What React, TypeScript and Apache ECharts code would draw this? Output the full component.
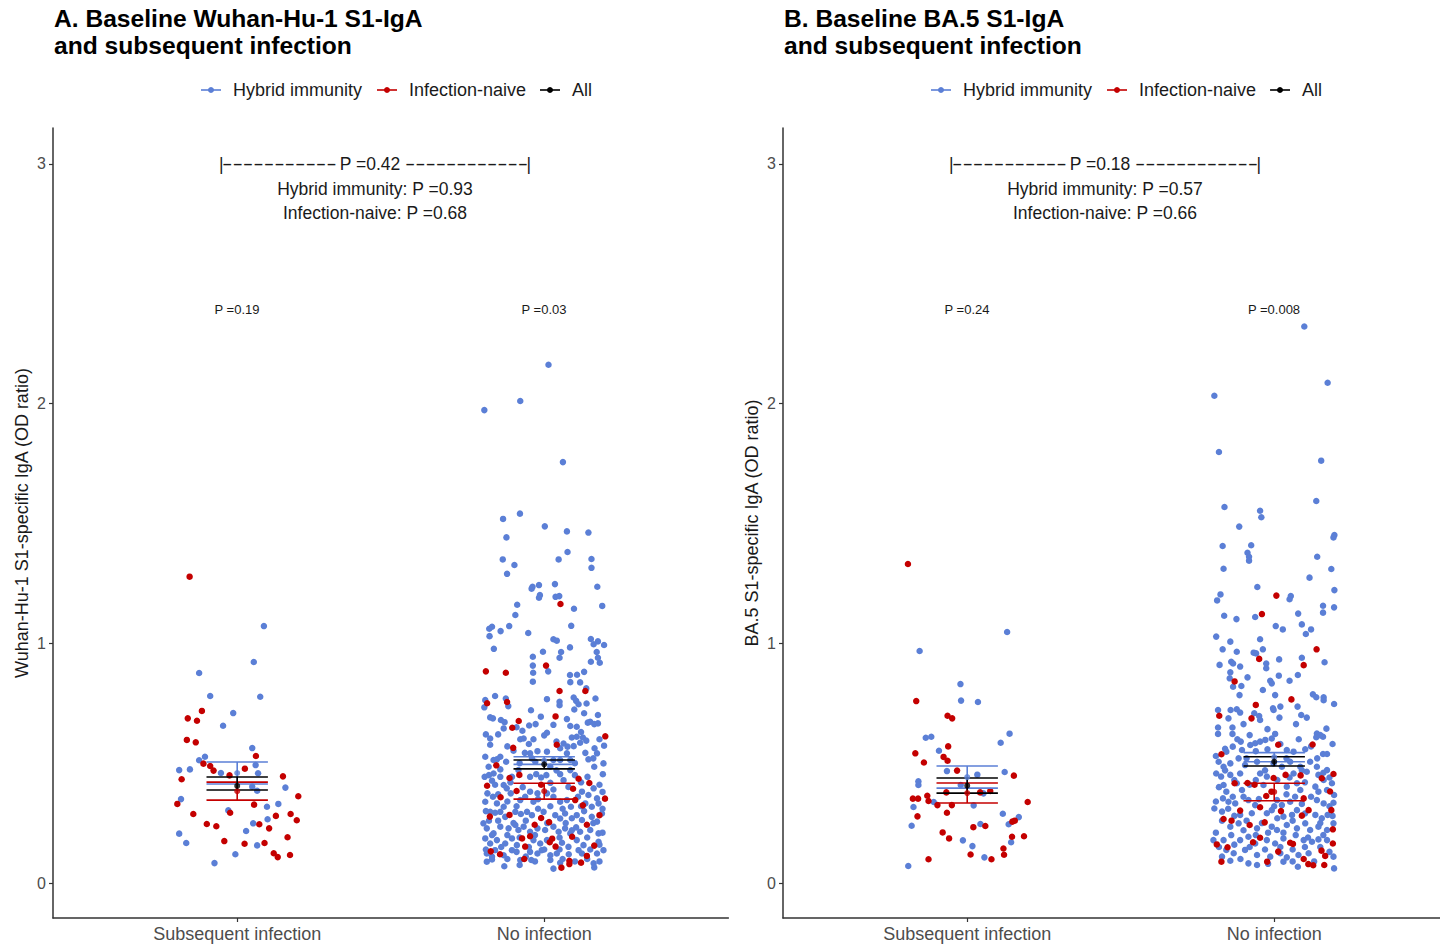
import React, { useEffect, useRef } from "react";
import * as echarts from "echarts";

// Categories on the x axis (positions 1 and 2 on a numeric scale so points can be jittered)
const categories = ["Subsequent infection", "No infection"];
const groups = ["Hybrid immunity", "Infection-naive", "All"];
const yTicks = [0, 1, 2, 3];

// Points: [horizontal jitter offset, OD ratio]
// Panel A – Wuhan-Hu-1
const wuhanSubHybrid = [
  [0.087, 1.072], [0.054, 0.922], [-0.124, 0.876], [-0.088, 0.78], [0.075, 0.777], [-0.013, 0.709], [-0.046, 0.656],
  [0.049, 0.563], [-0.105, 0.527], [-0.124, 0.512], [0.06, 0.492], [-0.189, 0.471], [-0.154, 0.474], [-0.053, 0.459],
  [0.068, 0.458], [0.049, 0.402], [0.065, 0.385], [0.157, 0.398], [-0.183, 0.35], [0.097, 0.318], [0.134, 0.33],
  [-0.029, 0.303], [0.099, 0.266], [0.052, 0.249], [-0.189, 0.206], [0.029, 0.217], [-0.166, 0.167], [0.065, 0.157],
  [-0.006, 0.12], [-0.074, 0.083],
];
const wuhanSubNaive = [
  [-0.155, 1.278], [-0.115, 0.718], [-0.161, 0.687], [-0.131, 0.677], [-0.164, 0.597], [-0.135, 0.587], [0.061, 0.53],
  [-0.11, 0.498], [-0.088, 0.488], [-0.077, 0.469], [0.025, 0.477], [-0.025, 0.449], [0.149, 0.445], [-0.181, 0.433],
  [0.199, 0.362], [-0.195, 0.33], [0.055, 0.327], [-0.023, 0.293], [-0.143, 0.288], [0.126, 0.28], [0.174, 0.288],
  [0.194, 0.262], [-0.099, 0.246], [-0.068, 0.237], [0.072, 0.245], [0.104, 0.228], [0.164, 0.191], [-0.042, 0.175],
  [0.024, 0.164], [0.089, 0.167], [0.119, 0.124], [0.132, 0.108], [0.172, 0.117],
];
const wuhanNoHybrid = [
  [-0.195, 1.973], [-0.078, 2.011], [0.014, 2.162], [0.061, 1.756],
  [-0.134, 1.519], [-0.079, 1.541], [0.002, 1.488], [0.074, 1.467], [0.144, 1.462], [-0.123, 1.442], [0.076, 1.381],
  [-0.135, 1.35], [0.047, 1.35], [0.154, 1.352], [-0.097, 1.327], [0.154, 1.315], [-0.121, 1.29], [0.035, 1.247],
  [-0.017, 1.243], [-0.038, 1.236], [-0.041, 1.228], [0.173, 1.236], [-0.014, 1.201], [-0.017, 1.19], [0.037, 1.194],
  [0.049, 1.197], [-0.088, 1.161], [0.097, 1.144], [0.189, 1.156], [-0.094, 1.118], [0.088, 1.073], [-0.114, 1.072],
  [-0.17, 1.069], [-0.179, 1.061], [-0.142, 1.051], [-0.178, 1.03], [-0.052, 1.043], [0.03, 1.017], [0.041, 1.011],
  [0.152, 1.018], [0.175, 1.008], [0.161, 0.996], [0.195, 0.993], [-0.164, 0.977], [0.084, 0.983], [-0.004, 0.965],
  [0.055, 0.964], [0.171, 0.964], [0.05, 0.94], [0.175, 0.94], [0.181, 0.919], [0.152, 0.923], [-0.037, 0.944],
  [-0.037, 0.907], [-0.036, 0.877], [0.013, 0.883], [0.084, 0.868], [0.107, 0.869], [0.13, 0.881],
  [-0.037, 0.84], [0.085, 0.838], [0.117, 0.837], [0.137, 0.812], [0.167, 0.77], [-0.192, 0.763], [-0.16, 0.78],
  [-0.125, 0.77], [-0.117, 0.738], [-0.195, 0.733], [-0.043, 0.721], [0.009, 0.767], [0.05, 0.756], [0.05, 0.742],
  [0.096, 0.774], [0.104, 0.76], [0.112, 0.746], [0.098, 0.724], [0.138, 0.749], [0.175, 0.701], [0.13, 0.708],
  [-0.176, 0.691], [-0.167, 0.687], [-0.141, 0.68], [-0.129, 0.671], [-0.132, 0.645], [-0.071, 0.635], [-0.049, 0.657],
  [-0.028, 0.663], [-0.011, 0.694], [0.009, 0.627], [0.0, 0.616], [0.074, 0.684], [0.085, 0.655], [0.106, 0.652],
  [0.142, 0.669], [0.15, 0.673], [0.163, 0.663], [0.175, 0.666], [0.195, 0.573], [-0.035, 0.6], [-0.067, 0.603],
  [-0.078, 0.6], [-0.176, 0.577], [0.09, 0.607], [0.106, 0.61], [0.126, 0.607], [0.137, 0.594], [0.117, 0.585],
  [0.063, 0.582], [0.052, 0.562], [0.076, 0.569], [0.096, 0.571], [0.164, 0.562], [0.134, 0.543], [0.172, 0.541],
  [-0.063, 0.543], [-0.046, 0.541], [0.009, 0.548], [-0.022, 0.55], [-0.192, 0.527], [-0.165, 0.513], [-0.154, 0.516],
  [-0.143, 0.527], [-0.124, 0.506], [0.074, 0.541], [0.052, 0.513], [0.03, 0.513], [-0.029, 0.506], [0.085, 0.471],
  [0.144, 0.516], [0.163, 0.485], [0.193, 0.499], [0.191, 0.454], [-0.181, 0.485], [-0.194, 0.443], [-0.165, 0.457],
  [-0.143, 0.474], [-0.17, 0.427], [-0.143, 0.443], [-0.132, 0.409], [-0.122, 0.395], [-0.046, 0.443], [-0.026, 0.454],
  [0.007, 0.45], [0.052, 0.454], [0.063, 0.429], [0.02, 0.418], [0.079, 0.401], [0.141, 0.443], [0.161, 0.395],
  [0.123, 0.381], [0.144, 0.367], [0.172, 0.353], [-0.185, 0.374], [-0.167, 0.36], [-0.192, 0.339], [-0.154, 0.332],
  [-0.132, 0.318], [-0.109, 0.374], [-0.078, 0.346], [-0.062, 0.36], [-0.046, 0.381], [-0.022, 0.374], [-0.035, 0.339],
  [0.009, 0.374], [0.03, 0.36], [0.052, 0.339], [0.074, 0.346], [0.087, 0.318], [0.134, 0.332], [0.155, 0.318],
  [0.177, 0.332], [0.188, 0.29], [-0.176, 0.297], [-0.16, 0.293], [-0.143, 0.297], [-0.127, 0.276], [-0.094, 0.297],
  [-0.076, 0.288], [-0.056, 0.297], [-0.04, 0.283], [-0.002, 0.297], [0.036, 0.283], [0.052, 0.269], [0.068, 0.29],
  [0.106, 0.283], [0.123, 0.263], [0.155, 0.276], [0.172, 0.256], [-0.198, 0.249], [-0.187, 0.228], [-0.165, 0.207],
  [-0.143, 0.235], [-0.116, 0.228], [-0.094, 0.242], [-0.084, 0.221], [-0.067, 0.235], [-0.046, 0.214], [-0.022, 0.228],
  [0.003, 0.221], [0.03, 0.235], [0.047, 0.214], [0.068, 0.228], [0.085, 0.207], [0.104, 0.232], [0.117, 0.214],
  [0.15, 0.221], [0.177, 0.207], [-0.192, 0.186], [-0.176, 0.165], [-0.154, 0.179], [-0.127, 0.165], [-0.105, 0.186],
  [-0.089, 0.158], [-0.035, 0.179], [-0.013, 0.165], [0.009, 0.179], [0.058, 0.168], [0.079, 0.151], [0.106, 0.179],
  [0.128, 0.158], [0.177, 0.172], [0.193, 0.137], [-0.187, 0.123], [-0.16, 0.137], [-0.132, 0.116], [-0.105, 0.137],
  [-0.046, 0.13], [-0.022, 0.123], [-0.008, 0.137], [0.02, 0.116], [0.041, 0.123], [0.112, 0.137], [0.123, 0.123],
  [0.172, 0.123], [-0.187, 0.089], [-0.17, 0.098], [-0.078, 0.096], [-0.042, 0.096], [0.02, 0.096], [0.052, 0.084],
  [0.161, 0.082], [0.163, 0.065], [-0.08, 0.075], [-0.176, 0.603], [-0.1, 0.552], [-0.105, 0.443], [-0.084, 0.471],
  [0.085, 0.513], [0.02, 0.485],
  [-0.18, 0.45], [-0.16, 0.41], [-0.11, 0.42], [-0.07, 0.4], [-0.01, 0.44], [0.04, 0.47], [0.1, 0.45], [0.12, 0.42],
  [0.18, 0.41], [-0.19, 0.3], [-0.15, 0.26], [-0.1, 0.25], [-0.06, 0.26], [-0.02, 0.31], [0.02, 0.32], [0.06, 0.31],
  [0.09, 0.27], [0.13, 0.3], [0.16, 0.25], [0.19, 0.31], [-0.17, 0.2], [-0.12, 0.2], [-0.08, 0.19], [-0.03, 0.2],
  [0.01, 0.25], [0.05, 0.19], [0.09, 0.22], [0.14, 0.19], [0.19, 0.21], [-0.19, 0.14], [-0.14, 0.15], [-0.09, 0.13],
  [-0.05, 0.15], [0.0, 0.14], [0.05, 0.14], [0.08, 0.12], [0.15, 0.14], [0.18, 0.16], [-0.17, 0.11], [-0.12, 0.1],
  [-0.03, 0.09], [0.06, 0.1], [0.1, 0.09], [0.14, 0.1], [0.18, 0.09], [-0.15, 0.62], [-0.09, 0.65], [0.03, 0.66],
  [0.12, 0.63], [0.18, 0.6], [-0.19, 0.62], [-0.05, 0.58], [0.04, 0.59], [-0.12, 0.57], [0.16, 0.52], [-0.08, 0.5],
  [-0.04, 0.52], [0.1, 0.5], [-0.15, 0.37], [-0.12, 0.34], [0.11, 0.36], [0.19, 0.38], [-0.02, 0.35], [0.03, 0.39],
  [-0.09, 0.32], [0.12, 0.32], [-0.18, 0.26], [0.07, 0.25], [-0.06, 0.11], [0.03, 0.06], [-0.13, 0.07],
];
const wuhanNoNaive = [
  [0.053, 1.164], [0.006, 0.907], [-0.19, 0.883], [-0.125, 0.877], [0.134, 0.801], [0.05, 0.801], [-0.186, 0.75],
  [-0.121, 0.755], [0.037, 0.695], [-0.083, 0.676], [-0.104, 0.648], [0.199, 0.612], [-0.101, 0.564], [0.041, 0.577],
  [-0.156, 0.491], [-0.081, 0.451], [-0.113, 0.438], [0.112, 0.435], [-0.186, 0.406], [-0.01, 0.41], [0.147, 0.417],
  [-0.09, 0.384], [0.094, 0.393], [-0.142, 0.358], [0.101, 0.346], [0.198, 0.352], [0.126, 0.324], [-0.177, 0.277],
  [-0.113, 0.284], [-0.01, 0.271], [-0.031, 0.243], [0.016, 0.254], [0.139, 0.243], [0.18, 0.283], [-0.072, 0.186],
  [-0.046, 0.195], [0.018, 0.17], [0.026, 0.185], [0.091, 0.193], [-0.062, 0.152], [0.037, 0.152], [0.163, 0.156],
  [-0.174, 0.132], [-0.144, 0.12], [0.139, 0.113], [-0.065, 0.1], [0.082, 0.093], [0.056, 0.064], [0.082, 0.079],
  [0.12, 0.085],
];

// Panel B – BA.5
const ba5SubHybrid = [
  [0.13, 1.047], [-0.155, 0.968], [-0.022, 0.83], [-0.02, 0.761], [0.035, 0.755], [0.138, 0.623], [0.109, 0.585],
  [-0.135, 0.606], [-0.117, 0.61], [-0.092, 0.552], [-0.066, 0.467], [0.033, 0.452], [0.122, 0.463], [-0.159, 0.424],
  [-0.159, 0.409], [-0.021, 0.409], [0.053, 0.374], [-0.109, 0.338], [0.021, 0.324], [-0.175, 0.317], [0.116, 0.289],
  [0.168, 0.275], [0.135, 0.245], [0.043, 0.246], [-0.181, 0.239], [-0.014, 0.178], [0.143, 0.17], [0.017, 0.154],
  [0.056, 0.107], [-0.192, 0.071],
];
const ba5SubNaive = [
  [-0.193, 1.331], [-0.166, 0.759], [-0.064, 0.698], [-0.049, 0.687], [-0.062, 0.57], [-0.169, 0.541], [-0.141, 0.503],
  [-0.077, 0.526], [-0.064, 0.51], [-0.033, 0.469], [0.152, 0.448], [-0.068, 0.378], [0.042, 0.378], [0.075, 0.384],
  [-0.177, 0.352], [-0.16, 0.352], [-0.13, 0.364], [-0.126, 0.342], [-0.097, 0.325], [-0.05, 0.325], [0.197, 0.338],
  [-0.162, 0.278], [-0.066, 0.293], [0.02, 0.233], [0.059, 0.238], [0.147, 0.256], [0.155, 0.26], [-0.08, 0.211],
  [-0.059, 0.186], [0.146, 0.193], [0.185, 0.195], [0.118, 0.144], [0.12, 0.118], [0.011, 0.119], [0.079, 0.099],
  [-0.126, 0.099],
];
const ba5NoHybrid = [
  [0.098, 2.322], [0.174, 2.087], [-0.195, 2.033], [-0.18, 1.798], [0.153, 1.762], [0.137, 1.594], [-0.162, 1.569],
  [-0.046, 1.553], [-0.042, 1.526], [-0.114, 1.487], [0.196, 1.452], [0.193, 1.442], [-0.168, 1.406], [-0.075, 1.409],
  [-0.087, 1.378], [-0.082, 1.361], [-0.082, 1.345], [0.14, 1.361], [-0.165, 1.311], [0.186, 1.31], [0.115, 1.274],
  [-0.055, 1.235], [0.196, 1.222], [-0.175, 1.204], [-0.186, 1.179], [0.054, 1.197], [0.05, 1.184], [0.159, 1.157],
  [0.195, 1.15], [0.159, 1.128], [0.078, 1.124], [-0.163, 1.115], [-0.123, 1.101], [-0.062, 1.11],
  [0.09, 1.079], [0.103, 1.039], [0.12, 1.058], [0.005, 1.072], [0.028, 1.058], [-0.189, 1.028], [-0.143, 1.007],
  [-0.046, 1.017], [-0.168, 0.975], [-0.122, 0.965], [-0.067, 0.961], [-0.059, 0.958], [-0.037, 0.975], [0.09, 0.94],
  [0.164, 0.921], [-0.178, 0.91], [-0.14, 0.923], [-0.134, 0.916], [-0.111, 0.903], [-0.026, 0.916], [-0.026, 0.896],
  [0.016, 0.933], [-0.143, 0.879], [-0.145, 0.854], [-0.134, 0.819], [-0.087, 0.858], [-0.013, 0.844], [-0.008, 0.833],
  [0.015, 0.865], [0.05, 0.844], [0.077, 0.868], [-0.107, 0.822], [-0.113, 0.784], [-0.037, 0.805], [0.003, 0.784],
  [0.126, 0.787], [0.137, 0.775], [0.161, 0.775], [0.161, 0.763], [0.195, 0.747], [0.076, 0.736], [-0.183, 0.722],
  [-0.142, 0.722], [-0.122, 0.725], [-0.111, 0.711], [-0.149, 0.687], [-0.065, 0.708], [-0.049, 0.697], [-0.004, 0.729],
  [0.02, 0.736], [-0.002, 0.722], [0.017, 0.69], [0.088, 0.701], [0.106, 0.69], [-0.1, 0.663], [-0.046, 0.68],
  [0.071, 0.663], [-0.183, 0.649], [-0.183, 0.622], [-0.136, 0.649], [-0.136, 0.622], [-0.022, 0.642], [0.139, 0.624],
  [0.159, 0.61], [0.17, 0.644], [-0.08, 0.617], [0.003, 0.622], [0.15, 0.617], [0.137, 0.608], [-0.109, 0.59],
  [-0.078, 0.576], [-0.062, 0.583], [-0.046, 0.59], [-0.029, 0.597], [-0.008, 0.603], [-0.135, 0.569], [-0.156, 0.548],
  [-0.105, 0.555], [-0.022, 0.558], [0.041, 0.555], [0.063, 0.548], [0.101, 0.558], [0.159, 0.538], [0.172, 0.538],
  [-0.181, 0.506], [-0.165, 0.485], [-0.143, 0.499], [-0.116, 0.52], [-0.095, 0.492], [-0.056, 0.506], [-0.002, 0.499],
  [0.025, 0.485], [0.052, 0.506], [0.085, 0.485], [0.117, 0.506], [0.139, 0.485], [0.172, 0.471], [-0.189, 0.457],
  [-0.173, 0.444], [-0.143, 0.451], [-0.111, 0.457], [-0.046, 0.457], [-0.024, 0.444], [0.063, 0.457], [0.106, 0.464],
  [0.144, 0.451], [0.161, 0.43], [0.188, 0.416], [-0.165, 0.409], [-0.156, 0.381], [-0.122, 0.416], [-0.105, 0.388],
  [-0.035, 0.409], [0.041, 0.402], [0.074, 0.416], [0.085, 0.388], [0.134, 0.402], [0.144, 0.381], [0.172, 0.388],
  [0.195, 0.367], [-0.167, 0.353], [-0.149, 0.339], [-0.135, 0.36], [-0.127, 0.332], [-0.084, 0.346], [-0.062, 0.325],
  [0.009, 0.346], [0.025, 0.325], [0.052, 0.339], [0.068, 0.36], [0.139, 0.346], [0.161, 0.332], [0.193, 0.335],
  [-0.195, 0.311], [-0.17, 0.298], [-0.111, 0.284], [-0.073, 0.291], [-0.024, 0.291], [-0.008, 0.304], [0.03, 0.277],
  [0.058, 0.284], [0.074, 0.304], [0.134, 0.284], [0.155, 0.27], [0.174, 0.284], [0.193, 0.249], [-0.143, 0.235],
  [-0.116, 0.249], [-0.056, 0.228], [-0.008, 0.235], [0.009, 0.221], [0.041, 0.242], [0.074, 0.228], [0.101, 0.249],
  [0.117, 0.221], [0.144, 0.235], [0.172, 0.221], [-0.198, 0.179], [-0.165, 0.179], [-0.111, 0.179], [-0.084, 0.193],
  [-0.062, 0.165], [-0.024, 0.179], [0.003, 0.165], [0.03, 0.186], [0.096, 0.179], [0.123, 0.172], [0.144, 0.182],
  [0.172, 0.179], [-0.156, 0.138], [-0.132, 0.124], [-0.095, 0.138], [-0.056, 0.117], [-0.013, 0.11], [0.02, 0.124],
  [0.041, 0.107], [0.079, 0.117], [0.112, 0.124], [0.193, 0.11], [-0.143, 0.093], [-0.084, 0.082], [-0.056, 0.075],
  [0.03, 0.089], [0.077, 0.068], [0.195, 0.061],
  [-0.18, 0.4], [-0.13, 0.43], [-0.08, 0.41], [-0.03, 0.47], [0.01, 0.43], [0.05, 0.44], [0.1, 0.42], [0.16, 0.46],
  [-0.19, 0.34], [-0.15, 0.31], [-0.1, 0.36], [-0.05, 0.35], [0.0, 0.32], [0.04, 0.37], [0.09, 0.33], [0.12, 0.36],
  [0.18, 0.32], [-0.17, 0.26], [-0.13, 0.28], [-0.09, 0.26], [-0.04, 0.25], [0.01, 0.27], [0.06, 0.26], [0.1, 0.29],
  [0.15, 0.25], [0.19, 0.28], [-0.19, 0.21], [-0.14, 0.2], [-0.1, 0.22], [-0.06, 0.2], [-0.02, 0.21], [0.03, 0.21],
  [0.07, 0.2], [0.11, 0.19], [0.16, 0.2], [-0.18, 0.15], [-0.13, 0.16], [-0.08, 0.15], [-0.03, 0.14], [0.02, 0.15],
  [0.06, 0.14], [0.1, 0.15], [0.15, 0.15], [0.18, 0.13], [-0.17, 0.11], [-0.11, 0.1], [-0.02, 0.08], [0.06, 0.09],
  [0.13, 0.09], [-0.16, 0.56], [-0.12, 0.6], [-0.06, 0.55], [0.02, 0.58], [0.08, 0.6], [0.12, 0.57], [0.19, 0.58],
  [-0.19, 0.53], [-0.09, 0.52], [0.04, 0.52], [0.14, 0.52], [-0.16, 0.47], [0.09, 0.47], [-0.06, 0.43], [0.18, 0.44],
];
const ba5NoNaive = [
  [0.007, 1.199], [-0.04, 1.122], [0.138, 0.975], [-0.049, 0.935], [0.096, 0.909], [-0.129, 0.841], [0.056, 0.766],
  [-0.06, 0.743], [-0.179, 0.698], [-0.074, 0.687], [0.013, 0.577], [0.125, 0.578], [-0.172, 0.537], [-0.129, 0.416],
  [-0.087, 0.417], [-0.064, 0.41], [-0.002, 0.438], [0.037, 0.451], [0.086, 0.449], [0.193, 0.455], [0.155, 0.437],
  [0.182, 0.382], [-0.009, 0.381], [-0.026, 0.363], [-0.046, 0.316], [-0.111, 0.302], [0.022, 0.3], [0.096, 0.353],
  [0.112, 0.304], [0.09, 0.281], [0.186, 0.304], [-0.165, 0.267], [-0.139, 0.26], [-0.08, 0.242], [-0.031, 0.253],
  [0.191, 0.224], [-0.046, 0.189], [-0.187, 0.161], [-0.152, 0.149], [-0.069, 0.17], [0.052, 0.168], [0.061, 0.163],
  [0.191, 0.165], [0.013, 0.131], [0.154, 0.135], [0.166, 0.113], [-0.172, 0.089], [-0.023, 0.089], [0.096, 0.1],
  [0.111, 0.079], [0.127, 0.074], [0.163, 0.075],
];

// Group summaries: [category position, group index, lower, mean, upper]
const wuhanSummary = [
  [1, 0, 0.413, 0.459, 0.505],
  [1, 1, 0.346, 0.383, 0.421],
  [1, 2, 0.388, 0.405, 0.442],
  [2, 0, 0.495, 0.511, 0.527],
  [2, 1, 0.35, 0.383, 0.416],
  [2, 2, 0.476, 0.495, 0.513],
];
const ba5Summary = [
  [1, 0, 0.396, 0.442, 0.488],
  [1, 1, 0.334, 0.375, 0.417],
  [1, 2, 0.375, 0.406, 0.438],
  [2, 0, 0.506, 0.525, 0.544],
  [2, 1, 0.343, 0.38, 0.416],
  [2, 2, 0.488, 0.507, 0.527],
];

// P values
const wuhanOverallP = "0.42";
const wuhanGroupP = ["0.93", "0.68"];
const wuhanCategoryP = ["0.19", "0.03"];
const ba5OverallP = "0.18";
const ba5GroupP = ["0.57", "0.66"];
const ba5CategoryP = ["0.24", "0.008"];

const COLORS = ["#5b7fd6", "#c40000", "#000000"];
const FONT = "Liberation Sans";

function place(cat: number, pts: number[][]) {
  return pts.map(([dx, v]) => [cat + dx, v]);
}

function buildPanel(
  idx: number,
  subHybrid: number[][],
  subNaive: number[][],
  noHybrid: number[][],
  noNaive: number[][],
  summary: number[][]
) {
  const ax = { xAxisIndex: idx, yAxisIndex: idx };
  const scatterBase = { type: "scatter", symbol: "circle", symbolSize: 6.5, silent: true, ...ax };
  const bars = [0, 1, 2].flatMap((g) =>
    summary.filter((s) => s[1] === g).map((s) => [s[0], s[2], s[4], g])
  );
  return [
    {
      ...scatterBase,
      name: groups[0],
      itemStyle: { color: COLORS[0], opacity: 1 },
      data: place(1, subHybrid).concat(place(2, noHybrid)),
      z: 2,
    },
    {
      ...scatterBase,
      name: groups[1],
      itemStyle: { color: COLORS[1], opacity: 1 },
      data: place(1, subNaive).concat(place(2, noNaive)),
      z: 3,
    },
    {
      type: "custom",
      ...ax,
      silent: true,
      z: 4,
      encode: { x: 0, y: [1, 2] },
      data: bars,
      renderItem: (_params: any, api: any) => {
        const x = api.value(0);
        const lo = api.value(1);
        const hi = api.value(2);
        const color = COLORS[api.value(3)];
        const pLo = api.coord([x, lo]);
        const pHi = api.coord([x, hi]);
        const left = api.coord([x - 0.1, lo])[0];
        const right = api.coord([x + 0.1, lo])[0];
        const style = { stroke: color, lineWidth: 1.6 };
        return {
          type: "group",
          children: [
            { type: "line", shape: { x1: pLo[0], y1: pLo[1], x2: pHi[0], y2: pHi[1] }, style },
            { type: "line", shape: { x1: left, y1: pLo[1], x2: right, y2: pLo[1] }, style },
            { type: "line", shape: { x1: left, y1: pHi[1], x2: right, y2: pHi[1] }, style },
          ],
        };
      },
    },
    {
      ...scatterBase,
      symbolSize: 6,
      z: 5,
      data: summary.map((s) => [s[0], s[3], s[1]]),
      itemStyle: { color: (p: any) => COLORS[p.data[2]] },
    },
  ];
}

function legend(x0: number[], y: number) {
  const out: any[] = [];
  groups.forEach((g, i) => {
    out.push({
      type: "line",
      shape: { x1: x0[i], y1: y, x2: x0[i] + 20, y2: y },
      style: { stroke: COLORS[i], lineWidth: 1.6 },
    });
    out.push({ type: "circle", shape: { cx: x0[i] + 10, cy: y, r: 3 }, style: { fill: COLORS[i] } });
    out.push({
      type: "text",
      x: x0[i] + 32,
      y,
      style: { text: g, font: `18px "${FONT}"`, fill: "#1a1a1a", verticalAlign: "middle", align: "left" },
    });
  });
  return out;
}

function annotations(left: number, right: number, pMid: number, overall: string, groupP: string[], catX: number[], catP: string[]) {
  const cx = (left + right) / 2;
  const txt = (x: number, y: number, text: string, size: number, align = "center", extra: any = {}) => ({
    type: "text",
    x,
    y,
    ...extra,
    style: { text, font: `${size}px "${FONT}"`, fill: "#1a1a1a", align, verticalAlign: "middle" },
  });
  return [
    txt(left, 164, "|", 17.5, "left"),
    txt(left + 3, 164, "-----------", 17.5, "left", { scaleX: 1.79 }),
    txt(pMid, 164, `P =${overall}`, 17.5),
    txt(right - 3, 164, "------------", 17.5, "right", { scaleX: 1.76 }),
    txt(right, 164, "|", 17.5, "right"),
    txt(cx, 189, `Hybrid immunity: P =${groupP[0]}`, 17.5),
    txt(cx, 213, `Infection-naive: P =${groupP[1]}`, 17.5),
    txt(catX[0], 309, `P =${catP[0]}`, 13),
    txt(catX[1], 309, `P =${catP[1]}`, 13),
  ];
}

function axes(idx: number, yName: string) {
  const x = {
    type: "value",
    gridIndex: idx,
    min: 0.4,
    max: idx === 0 ? 2.6 : 2.54,
    splitLine: { show: false },
    axisLine: { show: true, onZero: false, lineStyle: { color: "#333333", width: 1.5 } },
    axisTick: { show: true, length: 4, customValues: [1, 2], lineStyle: { color: "#333333", width: 1.2 } },
    axisLabel: {
      customValues: [1, 2],
      formatter: (v: number) => categories[Math.round(v) - 1],
      fontSize: 18,
      fontFamily: FONT,
      color: "#4d4d4d",
      margin: 7,
    },
  };
  const y = {
    type: "value",
    gridIndex: idx,
    min: -0.146,
    max: 3.15,
    name: yName,
    nameLocation: "middle",
    nameRotate: 90,
    nameGap: 22,
    nameTextStyle: { fontSize: 18, fontFamily: FONT, color: "#1a1a1a" },
    splitLine: { show: false },
    axisLine: { show: true, onZero: false, lineStyle: { color: "#333333", width: 1.5 } },
    axisTick: { show: true, length: 4, customValues: yTicks, lineStyle: { color: "#333333", width: 1.2 } },
    axisLabel: {
      customValues: yTicks,
      fontSize: 16,
      fontFamily: FONT,
      color: "#4d4d4d",
      margin: 7,
    },
  };
  return { x, y };
}

export default function App() {
  const ref = useRef<HTMLDivElement>(null);
  useEffect(() => {
    if (!ref.current) return;
    const chart = echarts.init(ref.current, undefined, { renderer: "svg" });
    const a = axes(0, "Wuhan-Hu-1 S1-specific IgA (OD ratio)");
    const b = axes(1, "BA.5 S1-specific IgA (OD ratio)");
    chart.setOption({
      animation: false,
      backgroundColor: "#ffffff",
      textStyle: { fontFamily: FONT },
      grid: [
        { left: 53, top: 128, width: 675.4, height: 790 },
        { left: 783, top: 128, width: 657, height: 790 },
      ],
      xAxis: [a.x, b.x],
      yAxis: [a.y, b.y],
      series: [
        ...buildPanel(0, wuhanSubHybrid, wuhanSubNaive, wuhanNoHybrid, wuhanNoNaive, wuhanSummary),
        ...buildPanel(1, ba5SubHybrid, ba5SubNaive, ba5NoHybrid, ba5NoNaive, ba5Summary),
      ],
      graphic: [
        {
          type: "text",
          x: 54,
          y: 5,
          style: {
            text: "A. Baseline Wuhan-Hu-1 S1-IgA\nand subsequent infection",
            font: `bold 24.6px "${FONT}"`,
            lineHeight: 27,
            fill: "#000000",
          },
        },
        {
          type: "text",
          x: 784,
          y: 5,
          style: {
            text: "B. Baseline BA.5 S1-IgA\nand subsequent infection",
            font: `bold 24.6px "${FONT}"`,
            lineHeight: 27,
            fill: "#000000",
          },
        },
        ...legend([201, 377, 540], 90),
        ...legend([931, 1107, 1270], 90),
        ...annotations(219, 531, 370, wuhanOverallP, wuhanGroupP, [237, 544], wuhanCategoryP),
        ...annotations(949, 1261, 1100, ba5OverallP, ba5GroupP, [967, 1274], ba5CategoryP),
      ],
    });
    return () => chart.dispose();
  }, []);
  return (
    <div
      ref={ref}
      style={{ position: "absolute", left: 0, top: 0, width: 1440, height: 947, background: "#ffffff" }}
    />
  );
}
